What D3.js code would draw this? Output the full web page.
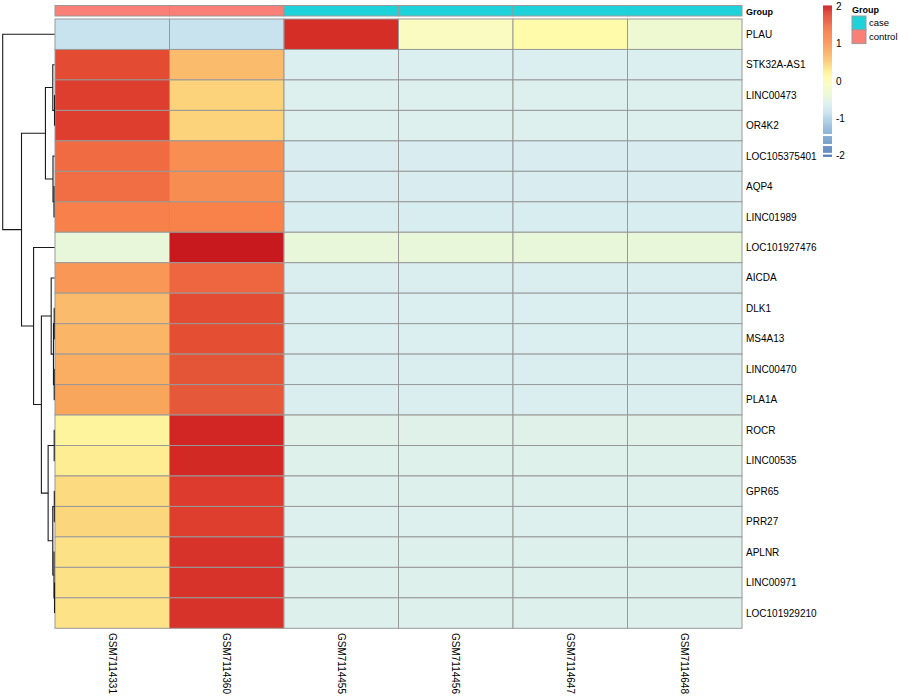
<!DOCTYPE html>
<html><head><meta charset="utf-8">
<script src="https://cdn.jsdelivr.net/npm/d3@7"></script>
<style>body{margin:0;background:#fff}svg{display:block}</style>
</head><body>
<script>
// ---------- data ----------
const genes = ["PLAU","STK32A-AS1","LINC00473","OR4K2","LOC105375401","AQP4","LINC01989",
  "LOC101927476","AICDA","DLK1","MS4A13","LINC00470","PLA1A","ROCR","LINC00535","GPR65",
  "PRR27","APLNR","LINC00971","LOC101929210"];
const samples = ["GSM7114331","GSM7114360","GSM7114455","GSM7114456","GSM7114647","GSM7114648"];
const sampleGroup = ["control","control","case","case","case","case"];
const groupLevels = ["case","control"];
const groupColors = ["#1ED2D9","#FA7F76"];

// row-scaled expression (z-scores) per sample
const valGSM7114331 = [-0.85,1.75,1.86,1.86,1.49,1.47,1.30,-0.41,1.00,0.65,0.72,0.79,0.87,0.20,0.28,0.42,0.45,0.37,0.37,0.36];
const valGSM7114360 = [-0.85,0.65,0.47,0.47,1.08,1.10,1.28,2.04,1.53,1.75,1.72,1.68,1.64,1.95,1.94,1.87,1.86,1.90,1.90,1.90];
const valGSM7114455 = [1.92,-0.60,-0.58,-0.58,-0.64,-0.64,-0.645,-0.41,-0.63,-0.60,-0.61,-0.62,-0.63,-0.54,-0.555,-0.57,-0.58,-0.57,-0.57,-0.565];
const valGSM7114456 = [-0.08,-0.60,-0.58,-0.58,-0.64,-0.64,-0.645,-0.41,-0.63,-0.60,-0.61,-0.62,-0.63,-0.54,-0.555,-0.57,-0.58,-0.57,-0.57,-0.565];
const valGSM7114647 = [0.10,-0.60,-0.58,-0.58,-0.64,-0.64,-0.645,-0.41,-0.63,-0.60,-0.61,-0.62,-0.63,-0.54,-0.555,-0.57,-0.58,-0.57,-0.57,-0.565];
const valGSM7114648 = [-0.30,-0.60,-0.58,-0.58,-0.64,-0.64,-0.645,-0.41,-0.63,-0.60,-0.61,-0.62,-0.63,-0.54,-0.555,-0.57,-0.58,-0.57,-0.57,-0.565];

// row dendrogram merges: [left, right, height]; "r#" = row index, "m#" = merge index
const rowMerges = [
  ["r2","r3",0.000], ["r1","m0",0.033], ["r5","r6",0.010], ["r4","m2",0.029],
  ["m1","m3",0.175], ["r9","r10",0.006], ["r11","r12",0.006], ["m5","m6",0.020],
  ["r8","m7",0.064], ["r13","r14",0.006], ["r15","r16",0.004], ["r18","r19",0.000],
  ["r17","m11",0.010], ["m10","m12",0.033], ["m9","m13",0.123], ["m8","m14",0.253],
  ["r7","m15",0.404], ["m4","m16",0.637], ["r0","m17",1.000]
];

// colour ramp
const colorStopValues = [-2.04,-1.45,-1.0,-0.85,-0.6,-0.4,-0.1,0.1,0.25,0.45,0.65,0.87,1.08,1.29,1.5,1.64,1.75,1.86,1.95,2.04];
const colorStopColors = ["#4272B2","#7FA9D0","#B0D4E6","#C8E3ED","#DCEFF0","#E9F6D8","#F8FBC2","#FFFBAB","#FEF197","#FCD67C",
  "#FABC6C","#F9A65D","#F88E52","#F8814A","#F06A42","#E5583A","#E34C32","#DD3E2E","#D12624","#C8191E"];
const legendTicks = [2,1,0,-1,-2];
const legendBands = [[-1.42,2.04],[-1.69,-1.49],[-1.93,-1.76],[-2.04,-1.99]];

// ---------- drawing ----------
const W = 900, H = 700;
const FONT = "'Liberation Sans', Arial, Helvetica, sans-serif";
const svg = d3.select("body").append("svg").attr("width",W).attr("height",H)
  .style("font-family",FONT);

const seriesBySample = [valGSM7114331,valGSM7114360,valGSM7114455,valGSM7114456,valGSM7114647,valGSM7114648];

const x = d3.scaleBand().domain(samples).range([55,742]);
const y = d3.scaleBand().domain(genes).range([19,628.3]);
const color = d3.scaleLinear().domain(colorStopValues).range(colorStopColors).clamp(true);
const groupColor = d3.scaleOrdinal().domain(groupLevels).range(groupColors);

// cells
const cells = [];
samples.forEach((s,j)=> genes.forEach((g,i)=> cells.push({s,g,v:seriesBySample[j][i]})));
svg.append("g").selectAll("rect").data(cells).join("rect")
  .attr("x",d=>x(d.s)).attr("y",d=>y(d.g))
  .attr("width",x.bandwidth()).attr("height",y.bandwidth())
  .attr("fill",d=>color(d.v)).attr("stroke","#999999").attr("stroke-width",1);

// annotation bar
svg.append("g").selectAll("rect").data(samples).join("rect")
  .attr("x",d=>x(d)).attr("y",5.5).attr("width",x.bandwidth()).attr("height",10.5)
  .attr("fill",(d,i)=>groupColor(sampleGroup[i])).attr("stroke","#999999").attr("stroke-width",1);
svg.append("text").attr("x",746).attr("y",14.5).attr("font-size",9).attr("font-weight","bold").text("Group");

// row labels
svg.append("g").selectAll("text").data(genes).join("text")
  .attr("x",746).attr("y",d=>y(d)+y.bandwidth()/2).attr("dy","0.35em")
  .attr("font-size",10).text(d=>d);

// column labels
svg.append("g").selectAll("text").data(samples).join("text")
  .attr("transform",d=>`translate(${x(d)+x.bandwidth()/2},633) rotate(90)`)
  .attr("dy","0.35em").attr("font-size",10).text(d=>d);

// dendrogram
const dx = d3.scaleLinear().domain([0,1]).range([54.5,2.7]);
const nodes = [];
function pos(id){
  if(id[0]==="r"){ const g = genes[+id.slice(1)]; return {y:y(g)+y.bandwidth()/2,h:0}; }
  return nodes[+id.slice(1)];
}
rowMerges.forEach(([a,b,h])=>{
  const A=pos(a), B=pos(b);
  nodes.push({y:(A.y+B.y)/2,h,a:A,b:B});
});
svg.append("g").selectAll("path").data(nodes).join("path")
  .attr("d",n=>`M${dx(n.a.h)},${n.a.y}H${dx(n.h)}V${n.b.y}H${dx(n.b.h)}`)
  .attr("fill","none").attr("stroke","#1a1a1a").attr("stroke-width",1.1);

// colour legend
const ly = d3.scaleLinear().domain([-2.04,2.04]).range([156.5,5.5]);
const lg = svg.append("g");
legendBands.forEach(([lo,hi])=>{
  const n = Math.max(1,Math.round(ly(lo)-ly(hi)));
  const steps = d3.range(n).map(k=>lo+(hi-lo)*(k+0.5)/n);
  const hstep = (ly(lo)-ly(hi))/n;
  lg.append("g").selectAll("rect").data(steps).join("rect")
    .attr("x",823).attr("width",9)
    .attr("y",(d,k)=>ly(lo)-(k+1)*hstep).attr("height",hstep+0.3)
    .attr("fill",d=>color(d));
});
lg.selectAll("text").data(legendTicks).join("text")
  .attr("x",836).attr("y",d=>ly(d)).attr("dy","0.35em").attr("font-size",10).text(d=>d);

// group legend
svg.append("text").attr("x",852).attr("y",12.5).attr("font-size",9).attr("font-weight","bold").text("Group");
const gl = svg.append("g").selectAll("g").data(groupLevels).join("g");
gl.append("rect").attr("x",852).attr("y",(d,i)=>16+i*13.8).attr("width",14).attr("height",13.8)
  .attr("fill",d=>groupColor(d)).attr("stroke","#999999").attr("stroke-width",1);
gl.append("text").attr("x",869).attr("y",(d,i)=>23+i*13.8).attr("dy","0.35em").attr("font-size",9.5).text(d=>d);
</script>
</body></html>
